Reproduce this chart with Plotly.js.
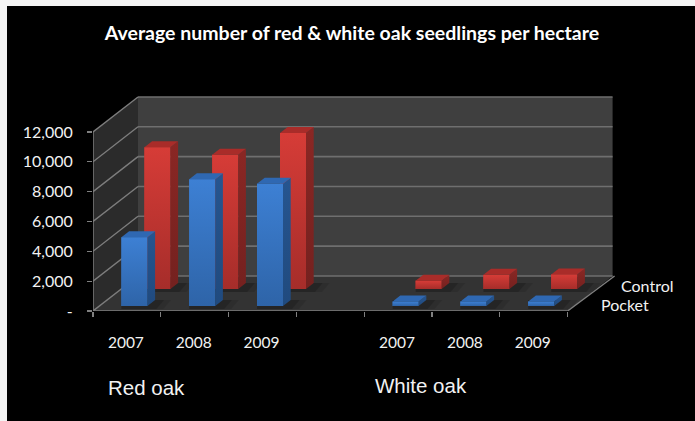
<!DOCTYPE html>
<html>
<head>
<meta charset="utf-8">
<script src="https://cdn.plot.ly/plotly-3.0.1.min.js"></script>
<style>html,body{margin:0;padding:0;background:#000}#chart{width:695px;height:421px}</style>
</head>
<body>
<div id="chart"></div>
<script>
// Seedling counts per hectare; the empty slot separates the two species.
const slotLabels = ['2007', '2008', '2009', '', '2007', '2008', '2009'];
const pocketValues = [4600, 8500, 8200, null, 300, 300, 300];
const controlValues = [9500, 9000, 10450, null, 560, 950, 980];
const valueTicks = [0, 2000, 4000, 6000, 8000, 10000, 12000];
const valueTickText = ['-', '2,000', '4,000', '6,000', '8,000', '10,000', '12,000'];

// Oblique projection: screen pixels per unit and the box depth.
const W = 695, H = 421;
const originX = 93, originY = 311;
const pxPerSlot = 67.8, pxPerValue = 14.92 / 1000;
const boxDepthX = 45, boxDepthY = 35;
const slots = slotLabels.length;
const dx = px => px / pxPerSlot;
const dy = px => px / pxPerValue;

// Returns an SVG path through points given as [slot, value, depth px right, depth px up].
const pathOf = pts => pts.map((p, i) => (i ? 'L' : 'M') + (p[0] + dx(p[2] || 0)) + ',' + (p[1] + dy(p[3] || 0))).join(' ') + ' Z';
const poly = (pts, fill) => ({type: 'path', layer: 'below', xref: 'x', yref: 'y', path: pathOf(pts), fillcolor: fill, line: {width: 0}});
const seg = (x0, y0, x1, y1, color, width) => ({type: 'line', layer: 'below', xref: 'x', yref: 'y', x0, y0, x1, y1, line: {color, width}});

const top12 = valueTicks[valueTicks.length - 1];
const shapes = [
  poly([[0, 0, boxDepthX, boxDepthY], [slots, 0, boxDepthX, boxDepthY], [slots, top12, boxDepthX, boxDepthY], [0, top12, boxDepthX, boxDepthY]], '#3f3f3f'),
  poly([[0, 0], [0, 0, boxDepthX, boxDepthY], [0, top12, boxDepthX, boxDepthY], [0, top12]], '#2b2b2b'),
  poly([[0, 0], [slots, 0], [slots, 0, boxDepthX, boxDepthY], [0, 0, boxDepthX, boxDepthY]], '#333333')
];
valueTicks.forEach(v => {
  const bx = dx(boxDepthX), by = dy(boxDepthY);
  shapes.push(seg(bx, v + by, slots + bx, v + by, '#6f6f6f', 1.6));
  shapes.push(seg(0, v, bx, v + by, '#7d7d7d', 1.4));
});
// Front edges of the box and the floor's right edge.
shapes.push(seg(0, 0, 0, top12, '#808080', 1.4));
shapes.push(seg(0, 0, slots, 0, '#808080', 1.4));
shapes.push(seg(slots, 0, slots + dx(boxDepthX + 2), dy(boxDepthY), '#808080', 1.4));
// Light page margin at the left and top edges.
shapes.push({type: 'rect', layer: 'above', xref: 'paper', yref: 'paper', x0: 0, x1: 7 / W, y0: 0, y1: 1, fillcolor: '#f4f4f4', line: {width: 0}});
shapes.push({type: 'rect', layer: 'above', xref: 'paper', yref: 'paper', x0: 0, x1: 1, y0: 1 - 6 / H, y1: 1, fillcolor: '#f4f4f4', line: {width: 0}});

// Bar geometry in pixels, per row of the box.
const barW = 26, sideX = 7.7, sideY = 6;
const rows = {
  control: {values: controlValues, shiftX: 30.5, liftY: 22, base: '#c03431', top: '#a92c29', sideHi: '#8a2724', sideLo: '#74211f', hi: '#d63c37', lo: '#a62d2a', xa: 'x', ya: 'y'},
  pocket: {values: pocketValues, shiftX: 7.5, liftY: 5, base: '#3673c0', top: '#2f68b2', sideHi: '#265590', sideLo: '#204a7e', hi: '#3d80d4', lo: '#2e64a8', xa: 'x2', ya: 'y2'}
};

const traces = [];
Object.values(rows).forEach(r => {
  const xs = slotLabels.map((_, i) => i + 0.5 + dx(r.shiftX));
  traces.push({type: 'bar', x: xs, y: r.values, base: r.values.map(() => dy(r.liftY)), width: dx(barW),
    marker: {color: r.base, line: {width: 0}}, xaxis: r.xa, yaxis: r.ya, hoverinfo: 'y', showlegend: false});
  r.values.forEach((v, i) => {
    if (v === null) return;
    const x0 = xs[i] - dx(barW) / 2, x1 = xs[i] + dx(barW) / 2;
    const b = dy(r.liftY), t = b + v;
    const sx = dx(sideX), sy = dy(sideY);
    // Soft floor shadow behind the bar's right side.
    [[16, 'rgba(0,0,0,0.10)'], [9, 'rgba(0,0,0,0.16)']].forEach(([reach, col]) => {
      shapes.push(poly([[x0, b - dy(3)], [x1 + dx(reach), b - dy(3)], [x1 + dx(reach) + sx, b + sy], [x0, b + sy]], col));
    });
    const add = (px, py, extra) => traces.push(Object.assign({type: 'scatter', mode: 'lines', x: px, y: py, fill: 'toself',
      line: {width: 0}, xaxis: r.xa, yaxis: r.ya, hoverinfo: 'skip', showlegend: false}, extra));
    // Front face shading, then the side and top faces.
    add([x0, x1, x1, x0, x0], [b, b, t, t, b], {fillgradient: {type: 'vertical', colorscale: [[0, r.lo], [1, r.hi]]}});
    add([x1, x1 + sx, x1 + sx, x1, x1], [b, b + sy, t + sy, t, b], {fillgradient: {type: 'vertical', colorscale: [[0, r.sideLo], [1, r.sideHi]]}});
    add([x0, x1, x1 + sx, x0 + sx, x0], [t, t, t + sy, t + sy, t], {fillcolor: r.top});
  });
});

const textNote = (text, px, py, size, family, anchor) => ({text, xref: 'paper', yref: 'paper', x: px / W, y: 1 - py / H,
  xanchor: anchor || 'left', yanchor: 'middle', showarrow: false, font: {family, size, color: '#f2f2f2'}});

const xRange = [0, (W - originX) / pxPerSlot];
const yRange = [0, originY / pxPerValue];
const xDomain = [originX / W, 1];
const yDomain = [(H - originY) / H, 1];

const layout = {
  width: W, height: H,
  margin: {l: 0, r: 0, t: 0, b: 0, pad: 0},
  paper_bgcolor: '#000000', plot_bgcolor: 'rgba(0,0,0,0)',
  barmode: 'overlay', showlegend: false,
  title: {text: '<b>Average number of red &amp; white oak seedlings per hectare</b>', x: 352 / W, xanchor: 'center', y: 1 - 33 / H, yanchor: 'middle',
    font: {family: 'Lato, sans-serif', size: 19.5, color: '#ffffff'}},
  xaxis: {domain: xDomain, range: xRange, fixedrange: true, showgrid: false, zeroline: false, showline: false,
    tickmode: 'array', tickvals: slotLabels.map((_, i) => i + 0.5 - 0.015), ticktext: slotLabels, ticks: 'outside', ticklen: 0, ticklabelstandoff: 17,
    tickfont: {family: 'Lato, sans-serif', size: 15.5, color: '#f2f2f2'},
    minor: {tickmode: 'array', tickvals: slotLabels.map((_, i) => i).concat([slots]), ticks: 'outside', ticklen: 5, tickcolor: '#808080', tickwidth: 1.2, showgrid: false}},
  yaxis: {domain: yDomain, range: yRange, fixedrange: true, showgrid: false, zeroline: false, showline: false,
    tickmode: 'array', tickvals: valueTicks, ticktext: valueTickText, ticks: 'outside', ticklen: 5, tickcolor: '#808080', tickwidth: 1.2, ticklabelstandoff: 11,
    tickfont: {family: 'Lato, sans-serif', size: 16, color: '#f2f2f2'}},
  xaxis2: {domain: xDomain, range: xRange, overlaying: 'x', visible: false, fixedrange: true},
  yaxis2: {domain: yDomain, range: yRange, overlaying: 'y', visible: false, fixedrange: true},
  shapes,
  annotations: [
    textNote('Red oak', 106, 387, 20.5, 'Liberation Sans, Arial, sans-serif'),
    textNote('White oak', 373, 385, 20.5, 'Liberation Sans, Arial, sans-serif'),
    textNote('Control', 619, 285, 16, 'Lato, sans-serif'),
    textNote('Pocket', 599, 304, 16, 'Lato, sans-serif')
  ]
};

Plotly.newPlot('chart', traces, layout, {displayModeBar: false, staticPlot: true});
</script>
</body>
</html>
